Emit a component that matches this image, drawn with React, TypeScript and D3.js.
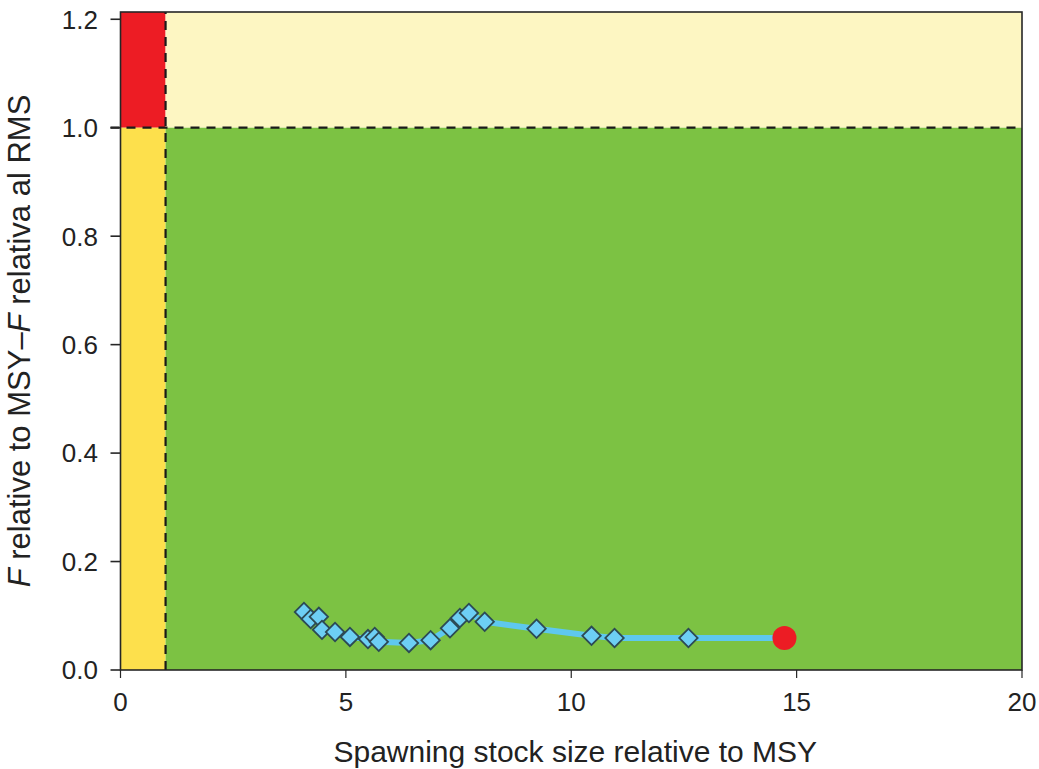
import { useEffect, useRef } from 'react';
import * as d3 from 'd3';

// stock size (relative to MSY Btrigger) and F (relative to FMSY)
const ssbValues = [4.07, 4.22, 4.40, 4.47, 4.76, 5.09, 5.49, 5.64, 5.73, 6.40, 6.88, 7.31, 7.53, 7.73, 8.08, 9.23, 10.45, 10.96, 12.60, 14.73];
const fValues = [0.107, 0.094, 0.098, 0.074, 0.070, 0.061, 0.057, 0.061, 0.052, 0.050, 0.055, 0.077, 0.096, 0.105, 0.089, 0.076, 0.063, 0.059, 0.059, 0.059];
const xTicks = [0, 5, 10, 15, 20];
const yTicks = [0, 0.2, 0.4, 0.6, 0.8, 1.0, 1.2];
const refX = 1;
const refY = 1;

export default function App() {
    const ref = useRef<SVGSVGElement>(null);

    useEffect(() => {
        const svg = d3.select(ref.current);
        svg.selectAll('*').remove();

        const left = 120.5, right = 1022, top = 12, bottom = 670;
        const x = d3.scaleLinear().domain([0, 20]).range([left, right]);
        const y = d3.scaleLinear().domain([0, 1.2134]).range([bottom, top]);
        const font = '"Liberation Sans", Arial, sans-serif';

        // zones
        const zones = [
            { x0: 0, x1: refX, y0: refY, y1: 1.2134, c: '#ed1c24' },
            { x0: refX, x1: 20, y0: refY, y1: 1.2134, c: '#fdf6c2' },
            { x0: 0, x1: refX, y0: 0, y1: refY, c: '#fde04c' },
            { x0: refX, x1: 20, y0: 0, y1: refY, c: '#7cc243' },
        ];
        svg.selectAll('rect.zone').data(zones).enter().append('rect')
            .attr('x', d => x(d.x0))
            .attr('y', d => y(d.y1))
            .attr('width', d => x(d.x1) - x(d.x0))
            .attr('height', d => y(d.y0) - y(d.y1))
            .attr('fill', d => d.c);

        // dashed reference lines
        svg.append('line')
            .attr('x1', x(refX)).attr('x2', x(refX))
            .attr('y1', y(0)).attr('y2', y(1.2134))
            .attr('stroke', '#1a1a1a').attr('stroke-width', 2.2)
            .attr('stroke-dasharray', '9,7');
        svg.append('line')
            .attr('x1', left - 10).attr('x2', right)
            .attr('y1', y(refY)).attr('y2', y(refY))
            .attr('stroke', '#1a1a1a').attr('stroke-width', 2.2)
            .attr('stroke-dasharray', '9,7');

        // frame
        svg.append('rect')
            .attr('x', left).attr('y', top)
            .attr('width', right - left).attr('height', bottom - top)
            .attr('fill', 'none').attr('stroke', '#262626').attr('stroke-width', 1.6);

        // y axis
        const yAxis = svg.append('g');
        yTicks.forEach(t => {
            yAxis.append('line')
                .attr('x1', left - 10).attr('x2', left)
                .attr('y1', y(t)).attr('y2', y(t))
                .attr('stroke', '#262626').attr('stroke-width', 1.6);
            yAxis.append('text')
                .attr('x', 98).attr('y', y(t))
                .attr('dy', '0.36em')
                .attr('text-anchor', 'end')
                .attr('font-family', font).attr('font-size', 26)
                .attr('fill', '#222')
                .text(d3.format('.1f')(t));
        });

        // x axis
        const xAxis = svg.append('g');
        xTicks.forEach(t => {
            xAxis.append('line')
                .attr('x1', x(t)).attr('x2', x(t))
                .attr('y1', bottom).attr('y2', bottom + 8)
                .attr('stroke', '#262626').attr('stroke-width', 1.2);
            xAxis.append('text')
                .attr('x', x(t)).attr('y', 711)
                .attr('text-anchor', 'middle')
                .attr('font-family', font).attr('font-size', 26)
                .attr('fill', '#222')
                .text(t);
        });

        // titles
        svg.append('text')
            .attr('x', (left + right) / 2 + 4).attr('y', 762)
            .attr('text-anchor', 'middle')
            .attr('font-family', font).attr('font-size', 30)
            .attr('fill', '#222')
            .text('Spawning stock size relative to MSY');

        const yt = svg.append('text')
            .attr('transform', `translate(30, ${(top + bottom) / 2}) rotate(-90)`)
            .attr('text-anchor', 'middle')
            .attr('font-family', font).attr('font-size', 31)
            .attr('fill', '#222');
        yt.append('tspan').attr('font-style', 'italic').text('F');
        yt.append('tspan').text(' relative to MSY\u2013');
        yt.append('tspan').attr('font-style', 'italic').text('F');
        yt.append('tspan').text(' relativa al RMS');

        // trajectory
        const pts = ssbValues.map((v, i) => [v, fValues[i]] as [number, number]);
        const line = d3.line<[number, number]>().x(d => x(d[0])).y(d => y(d[1]));
        svg.append('path')
            .attr('d', line(pts))
            .attr('fill', 'none')
            .attr('stroke', '#5ec8ef')
            .attr('stroke-width', 6)
            .attr('stroke-linejoin', 'round');

        const diamond = d3.symbol().type(d3.symbolSquare).size(170);
        svg.selectAll('path.pt').data(pts.slice(0, -1)).enter().append('path')
            .attr('d', diamond())
            .attr('transform', d => `translate(${x(d[0])},${y(d[1])}) rotate(45)`)
            .attr('fill', '#6dcff4')
            .attr('stroke', '#2c4a55')
            .attr('stroke-width', 1.8);

        const last = pts[pts.length - 1];
        svg.append('circle')
            .attr('cx', x(last[0])).attr('cy', y(last[1]))
            .attr('r', 12)
            .attr('fill', '#ec1c24');
    }, []);

    return (
        <svg
            ref={ref}
            width={1039}
            height={769}
            style={{ position: 'absolute', left: 0, top: 0, display: 'block' }}
        />
    );
}
